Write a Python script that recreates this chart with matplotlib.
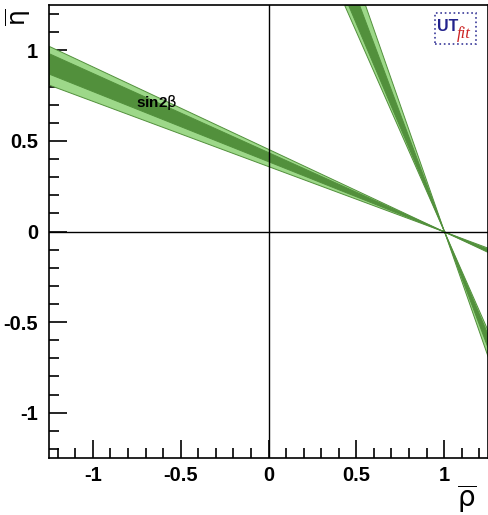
import numpy as np
import matplotlib
matplotlib.use("Agg")
import matplotlib.pyplot as plt
from matplotlib.patches import Rectangle
from matplotlib.ticker import MultipleLocator

# tan(beta) limits of the sin2beta constraint: 95% and 68% bands
tan_95 = [0.360, 0.455]
tan_68 = [0.387, 0.437]
apex = (1.0, 0.0)
xlim = (-1.25, 1.25)
ylim = (-1.25, 1.25)
label_pos = (-0.64, 0.71)

light_green = "#9dd889"
dark_green = "#52903c"

plt.rcParams["font.family"] = ["Liberation Sans", "DejaVu Sans"]
plt.rcParams["mathtext.fontset"] = "custom"
plt.rcParams["mathtext.rm"] = "DejaVu Sans"
plt.rcParams["mathtext.it"] = "DejaVu Sans:italic"
plt.rcParams["mathtext.bf"] = "DejaVu Sans:bold"

fig = plt.figure(figsize=(4.88, 5.15), dpi=100)
ax = fig.add_axes([49 / 488, 57 / 515, 439 / 488, 453 / 515])

xs = np.array([xlim[0], apex[0], xlim[1]])
ys = np.array([ylim[0], apex[1], ylim[1]])


def draw_band(tans, color, edge):
    # shallow solution: eta = t (1 - rho)
    ax.fill_between(xs, tans[0] * (apex[0] - xs), tans[1] * (apex[0] - xs),
                    facecolor=color, edgecolor=edge, linewidth=0.7, zorder=2)
    # steep solution: rho = 1 - t eta
    ax.fill_betweenx(ys, apex[0] - tans[0] * ys, apex[0] - tans[1] * ys,
                     facecolor=color, edgecolor=edge, linewidth=0.7, zorder=2)


draw_band(tan_95, light_green, dark_green)
draw_band(tan_68, dark_green, dark_green)

ax.axhline(0, color="black", lw=1.0, zorder=3)
ax.axvline(0, color="black", lw=1.0, zorder=3)

ax.text(label_pos[0], label_pos[1], r"sin2$\mathrm{\beta}$", fontsize=11,
        fontweight="bold", ha="center", va="center", zorder=4)

ax.set_xlim(*xlim)
ax.set_ylim(*ylim)
ax.xaxis.set_major_locator(MultipleLocator(0.5))
ax.xaxis.set_minor_locator(MultipleLocator(0.1))
ax.yaxis.set_major_locator(MultipleLocator(0.5))
ax.yaxis.set_minor_locator(MultipleLocator(0.1))
ax.tick_params(which="both", direction="in", top=False, right=False, width=1.2)
ax.tick_params(which="major", length=13, labelsize=14.5)
ax.tick_params(axis="x", which="major", pad=6)
ax.tick_params(axis="y", which="major", pad=8)
ax.tick_params(which="minor", length=7)
ax.xaxis.set_major_formatter(plt.FuncFormatter(lambda v, p: f"{v:g}"))
ax.yaxis.set_major_formatter(plt.FuncFormatter(lambda v, p: f"{v:g}"))
for lab in ax.get_xticklabels() + ax.get_yticklabels():
    lab.set_fontweight("bold")
for sp in ax.spines.values():
    sp.set_linewidth(1.2)

# UTfit logo
ax.add_patch(Rectangle((0.879, 0.914), 0.094, 0.068, transform=ax.transAxes,
                       facecolor="white", edgecolor="#3a3a9a", linestyle=":",
                       linewidth=1.2, zorder=5))
ax.text(0.883, 0.953, "UT", transform=ax.transAxes, fontsize=11.5, fontweight="bold",
        color="#23238c", ha="left", va="center", zorder=6)
ax.text(0.930, 0.937, "fit", transform=ax.transAxes, fontsize=12, style="italic",
        family="Liberation Serif", color="#cc2222", ha="left", va="center", zorder=6)

# axis titles
fig.text(467 / 488, 1 - 499 / 515, r"$\overline{\mathrm{\rho}}$", fontsize=20,
         ha="center", va="center")
fig.text(18 / 488, 1 - 17 / 515, r"$\overline{\mathrm{\eta}}$", fontsize=18,
         rotation=90, ha="center", va="center")

fig.savefig("out.png", dpi=100)
